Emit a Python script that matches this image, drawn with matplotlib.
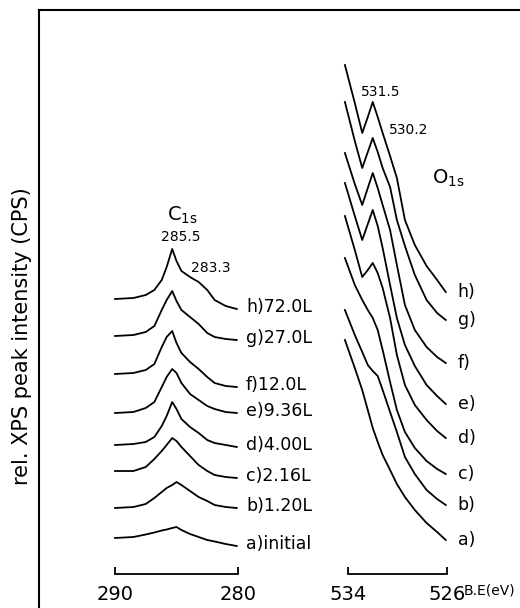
import matplotlib
matplotlib.use("Agg")
import matplotlib.pyplot as plt

# ---------------- data (arbitrary intensity units) ----------------
c1s_energy = [290, 288.5, 287.5, 286.8, 286.2, 285.8, 285.35, 285.0, 284.6,
              283.9, 283.2, 282.5, 281.9, 281.0, 280.1]
c1s_curves = {
    "h": [309, 310, 313, 318, 328, 341, 359, 347, 337, 331, 326, 318, 308, 302, 299],
    "g": [272, 273, 276, 282, 298, 308, 317, 307, 298, 291, 284, 275, 271, 269, 268],
    "f": [234, 235, 238, 244, 261, 271, 277, 265, 255, 246, 239, 231, 225, 222, 221],
    "e": [195, 196, 200, 206, 221, 231, 239, 235, 225, 214, 208, 202, 199, 196, 195],
    "d": [163, 164, 166, 171, 182, 192, 206, 199, 189, 181, 175, 168, 165, 163, 161],
    "c": [137, 137, 141, 149, 157, 163, 170, 167, 161, 152, 143, 137, 133, 131, 130],
    "b": [100, 101, 104, 110, 116, 120, 123, 126, 123, 117, 111, 107, 103, 101, 100],
    "a": [70, 71, 73.5, 75.5, 77.5, 78.5, 80, 81, 78, 74, 71, 68, 66.5, 64, 62],
}
c1s_labels = {"h": "h)72.0L", "g": "g)27.0L", "f": "f)12.0L", "e": "e)9.36L",
              "d": "d)4.00L", "c": "c)2.16L", "b": "b)1.20L", "a": "a)initial"}

o1s_energy = [534.25, 533.45, 532.85, 532.4, 532.0, 531.6, 531.2, 530.6, 530.05,
              529.4, 528.6, 527.65, 526.8, 526.1]
o1s_curves = {
    "h": [543, 505, 475, 491, 506, 491, 475, 452, 430, 388, 363, 342, 328, 316],
    "g": [506, 467, 440, 456, 470, 456, 440, 421, 388, 362, 333, 308, 295, 288],
    "f": [455, 424, 403, 420, 435, 420, 403, 378, 343, 303, 278, 261, 251, 245],
    "e": [425, 392, 368, 384, 398, 382, 360, 323, 290, 263, 242, 223, 212, 204],
    "d": [392, 358, 331, 338, 345, 335, 320, 290, 253, 223, 203, 188, 177, 170],
    "c": [350, 323, 308, 298, 290, 278, 258, 226, 198, 176, 160, 147, 139, 134],
    "b": [298, 273, 256, 243, 237, 232, 218, 196, 176, 151, 134, 118, 109, 103],
    "a": [268, 240, 218, 198, 180, 166, 153, 138, 124, 111, 98, 85, 76, 68],
}
o1s_labels = {k: k + ")" for k in o1s_curves}

c1s_ticks = [290, 280]
o1s_ticks = [534, 526]

# ---------------- figure ----------------
W, H = 520, 608
fig = plt.figure(figsize=(W / 100, H / 100), dpi=100)
fig.patch.set_facecolor("white")

def fx(px):
    return px / W

# frame (left & top border)
frame = fig.add_axes([fx(39), 0, 1.0, 598 / H])
frame.set_xticks([]); frame.set_yticks([])
for s in ("right", "bottom"):
    frame.spines[s].set_visible(False)
for s in ("left", "top"):
    frame.spines[s].set_linewidth(1.5)
frame.patch.set_alpha(0)

fig.text(fx(22), (H - 336) / H, "rel. XPS peak intensity (CPS)",
         rotation=90, ha="center", va="center", fontsize=15)

YMAX = H
BAR = H - 574

def setup(ax, lo, hi, ticks):
    ax.set_xlim(lo, hi)
    ax.set_ylim(0, YMAX)
    ax.patch.set_alpha(0)
    for s in ("left", "right", "top"):
        ax.spines[s].set_visible(False)
    ax.spines["bottom"].set_position(("data", BAR))
    ax.spines["bottom"].set_linewidth(1.3)
    ax.set_yticks([])
    ax.set_xticks(ticks)
    ax.set_xticklabels([str(t) for t in ticks])
    ax.tick_params(axis="x", direction="in", length=5, width=1.3,
                   labelsize=14, pad=8)

ax_c = fig.add_axes([fx(115), 0, fx(123), 1])
setup(ax_c, 290, 280, c1s_ticks)
ax_o = fig.add_axes([fx(348), 0, fx(99), 1])
setup(ax_o, 534, 526, o1s_ticks)

for k, vals in c1s_curves.items():
    ax_c.plot(c1s_energy, vals, color="black", lw=1.3, clip_on=False)
    ax_c.text(279.35, vals[-1] + 2, c1s_labels[k], ha="left", va="center",
              fontsize=12.5)

for k, vals in o1s_curves.items():
    ax_o.plot(o1s_energy, vals, color="black", lw=1.3, clip_on=False)
    ax_o.text(525.15, vals[-1], o1s_labels[k], ha="left", va="center",
              fontsize=12.5)

# annotations
ax_c.text(284.55, H - 215, r"C$_{\mathregular{1s}}$", ha="center", va="center",
          fontsize=14)
ax_c.text(284.63, H - 237, "285.5", ha="center", va="center", fontsize=10)
ax_c.text(282.2, H - 268, "283.3", ha="center", va="center", fontsize=10)
ax_o.text(531.34, H - 92, "531.5", ha="center", va="center", fontsize=10)
ax_o.text(529.08, H - 130, "530.2", ha="center", va="center", fontsize=10)
ax_o.text(527.25, H - 178, r"O$_{\mathregular{1s}}$", ha="left", va="center",
          fontsize=14)
ax_o.text(524.65, H - 591, "B.E(eV)", ha="left", va="center", fontsize=10,
          clip_on=False)

fig.savefig("out.png", dpi=100)
